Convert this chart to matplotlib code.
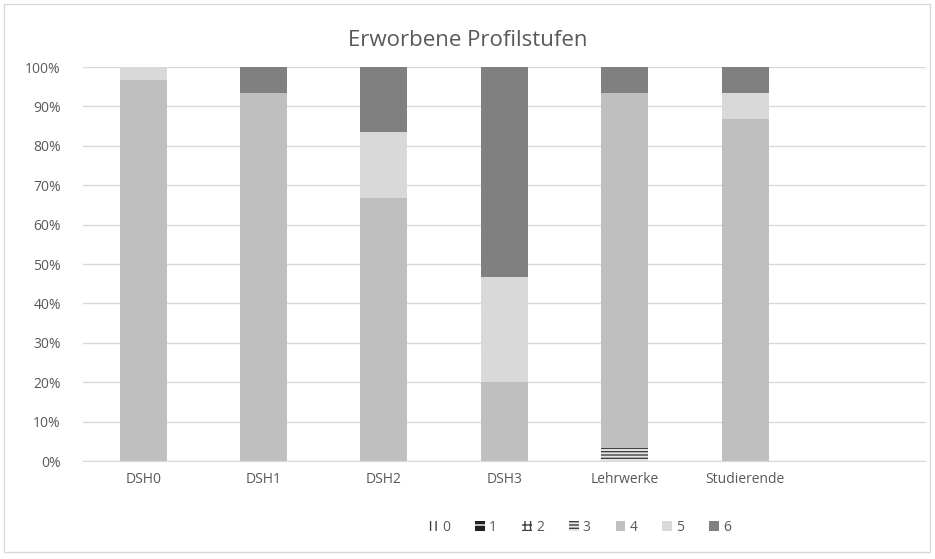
# Erworbene Profilstufen - gestapelte Säulen (100%)

import matplotlib.pyplot as plt
from matplotlib.patches import Rectangle, Patch

plt.rcParams['font.family'] = ['Open Sans', 'DejaVu Sans']
plt.rcParams['hatch.linewidth'] = 1.0

# Kategorien (7. Platz bleibt leer)
categories = ["DSH0", "DSH1", "DSH2", "DSH3", "Lehrwerke", "Studierende", ""]

# Anteile je Profilstufe in %
stufe0 = [0, 0, 0, 0, 0, 0, 0]
stufe1 = [0, 0, 0, 0, 0, 0, 0]
stufe2 = [0, 0, 0, 0, 0, 0, 0]
stufe3 = [0, 0, 0, 0, 3.3, 0, 0]
stufe4 = [96.7, 93.3, 66.7, 20.0, 90.0, 86.7, 0]
stufe5 = [3.3, 0, 16.7, 26.7, 0, 6.7, 0]
stufe6 = [0, 6.7, 16.6, 53.3, 6.7, 6.6, 0]

labels = ["0", "1", "2", "3", "4", "5", "6"]
series = [stufe0, stufe1, stufe2, stufe3, stufe4, stufe5, stufe6]
colors = ['white', '#202020', 'white', '#e6e6e6', '#bfbfbf', '#d9d9d9', '#808080']
hatches = ['|||', '-', '+++', '-----', None, None, None]
hatch_cols = ['#404040', 'white', '#404040', '#404040', None, None, None]

fig = plt.figure(figsize=(9.35, 5.59), dpi=100)
ax = fig.add_axes([0.0888, 0.1753, 0.9012, 0.7047])

x = list(range(len(categories)))
bottom = [0] * len(categories)
for vals, col, h, hc, lab in zip(series, colors, hatches, hatch_cols, labels):
    ax.bar(x, vals, width=0.39, bottom=bottom, color=col, hatch=h,
           edgecolor=hc if hc else col, linewidth=0, label=lab, zorder=3)
    bottom = [b + v for b, v in zip(bottom, vals)]

ax.set_xlim(-0.5, 6.5)
ax.set_ylim(0, 100)
ax.set_yticks(range(0, 101, 10))
ax.set_yticklabels([f"{v}%" for v in range(0, 101, 10)])
ax.set_xticks(x)
ax.set_xticklabels(categories)
ax.tick_params(length=0, colors='#595959', labelsize=10)
ax.tick_params(axis='x', pad=8)
ax.tick_params(axis='y', pad=16)
ax.grid(axis='y', color='#d9d9d9', linewidth=1, zorder=0)
for s in ['top', 'right', 'left']:
    ax.spines[s].set_visible(False)
ax.spines['bottom'].set_color('#d9d9d9')
ax.spines['bottom'].set_zorder(4)

fig.text(0.5, 0.928, "Erworbene Profilstufen", ha='center', va='center',
         fontsize=16, color='#595959')

# Legende
handles = [Patch(facecolor=c, hatch=h, edgecolor=hc if hc else c, linewidth=0, label=l)
           for c, h, hc, l in zip(colors, hatches, hatch_cols, labels)]
leg = fig.legend(handles=handles, loc='center', bbox_to_anchor=(0.62, 0.057), ncol=7,
                 frameon=False, fontsize=10, handlelength=0.7, handleheight=0.7,
                 handletextpad=0.3, columnspacing=1.8)
for t in leg.get_texts():
    t.set_color('#595959')

# Rahmen um das Diagramm
fig.patches.append(Rectangle((0.004, 0.012), 0.991, 0.98, transform=fig.transFigure,
                             fill=False, edgecolor='#d9d9d9', linewidth=1))

plt.savefig("out.png", dpi=100)
